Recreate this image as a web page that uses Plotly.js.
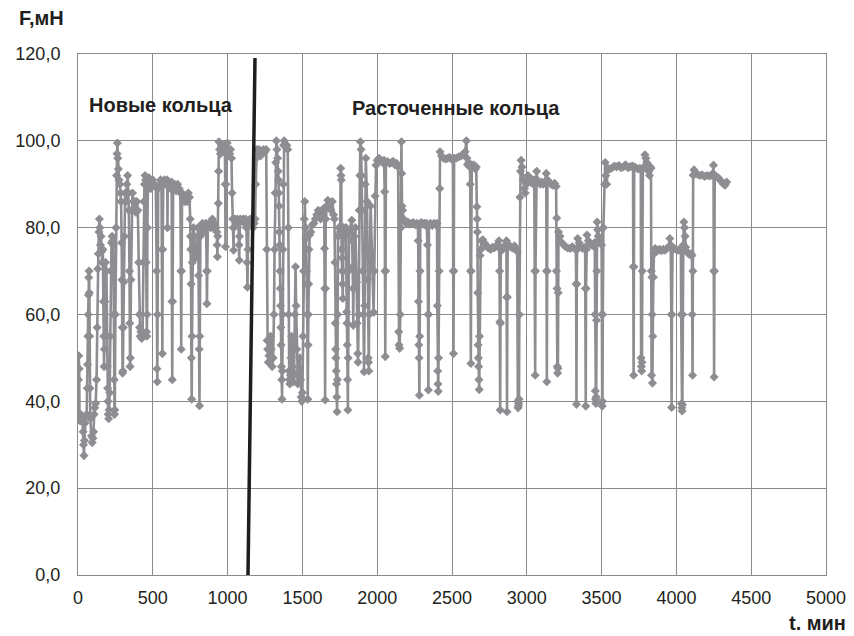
<!DOCTYPE html>
<html>
<head>
<meta charset="utf-8">
<script src="https://cdn.plot.ly/plotly-3.0.1.min.js"></script>
<style>
  html, body { margin: 0; padding: 0; background: #fff; }
  #chart { width: 854px; height: 636px; }
</style>
</head>
<body>
<div id="chart"></div>
<script>
// Friction force F (mN) versus time t (min); [t, F] pairs in time order.
// New rings: t = 0 … ~1150 min
const newRingsA = [
  [0,37],[3,45],[5,50.5],[8,47.5],[10,36],[14,35.5],[18,37],[22,36.5],[26,35.5],[30,36],
  [34,33],[37,30],[40,27.5],[43,31],[47,35],[52,36.5],
  [58,37],[62,43],[64,48.5],[66,55],[68,60],[70,64.5],[72,68.5],[74,70],[76,65],[78,55],[80,43],[82,36],
  [90,32],[95,30.5],[100,31.5],[104,33],[108,37],[112,38.5],[118,39.5],
  [124,45],[128,57],[132,70.5],[136,74],[140,79],[143,82],[146,80],[150,76],[154,78],[158,74.5],[162,72],[166,75],
  [170,63],[172,55],[174,48],[176,52],[180,63],[184,72],
  [190,70],[193,55],[196,48],[198,43],[200,40],[202,37],[205,36],[208,38],[212,42],[216,55],[220,70],[224,76.5],[228,78],[232,77],[236,76],
  [240,60],[242,45],[244,37],[246,38],[250,60],[254,80],[258,92],[261,97],[263,99.5],[266,96],[270,93.5],[274,91],
  [280,90],[284,88],[288,86],[292,76.5],[294,68],[296,57],[298,46.5],[300,47],[303,57],[306,67.5],[310,78],[315,88],
  [320,86],[326,90],[332,92],[336,88],[340,84],[344,70],[346,58],[348,48],[350,50],[354,68],[358,84],[364,88],[370,86],[376,84],[382,86],[388,83.5],
  [394,86],[400,84],[406,72],[410,60],[412,57],[416,55],[420,56],[426,54.5],[432,56],[436,72],[440,86],[444,90],[448,92],[452,91]
];
const newRingsB = [
  [456,72],[458,56],[460,55],[462,60],[464,80],[468,91],[474,91.5],[480,90],[486,89],[492,90],[500,91],[510,90],[520,89.5],
  [526,70],[528,47.5],[530,44.5],[532,60],[536,89],[544,90],[552,91],[558,90],
  [562,75],[564,51],[566,75],[570,90],[578,91],[586,90],[596,91],[598,80],[600,90],[606,89.5],[614,90],[620,89],[626,90.5],
  [628,63],[630,45],[632,63],[636,89],[646,90],[656,88.5],[666,90],[676,89],[684,88],
  [688,70],[690,52],[692,70],[696,88],[704,87],[712,86],[722,87],[730,86],[738,88],[745,87],
  [750,82],[752,78],[754,75],[756,67],[758,50],[760,40.5],[762,55],[764,72],[768,75],[772,80],[778,78],[784,73],[790,76],[796,74],
  [802,80],[806,69],[810,52],[812,39],[814,55],[818,78],[824,80],[832,81],[840,79],[848,80],[856,81],
  [860,70],[862,62.5],[864,70],[868,80],[878,81],[888,80],[898,82],[906,80],[914,81],[922,80],[928,79],
  [930,76],[932,73.3],[934,78],[938,85.6],[940,93],[942,99.8],[946,98],[952,97],[958,99],[964,98.5],[970,97.5],[976,99],[982,98],
  [984,90],[986,75.6],[988,90],[992,98],[998,99.5],[1006,98],[1014,97],[1020,98],[1026,96],
  [1030,88],[1034,82],[1038,80],[1040,74.8],[1042,80],[1048,82],[1056,81],[1064,82],[1072,81.5],
  [1076,76],[1078,72.5],[1080,78],[1084,82],[1094,81.5],[1104,82],[1114,81],[1120,82],[1126,80],
  [1130,72],[1133,66.3],[1136,75],[1140,81],[1150,82]
];
// Bored rings: t > ~1150 min
const boredRingsA = [
  [1160,81],[1170,80],[1178,81],[1184,82],
  [1188,90],[1192,96],[1196,98],[1204,97.5],[1212,98],[1220,96.5],[1230,97],[1240,98],[1250,97.5],[1258,98],
  [1262,75],[1264,54],[1268,52],[1272,49],[1276,50.5],[1280,52],[1284,54],[1288,55],[1292,52],[1298,48],[1304,50],
  [1310,60],[1314,75],[1318,88],[1322,95],[1326,100],[1330,98],[1334,96],[1338,93],[1340,91],[1342,88],[1344,85],[1346,79],[1348,76],
  [1350,70],[1352,66],[1354,62],[1356,57],[1358,53],[1360,48],[1362,45],[1364,40.5],[1366,47],[1368,60],[1370,75],[1372,90],[1374,99],
  [1378,100],[1384,99],[1390,98.5],[1396,99],[1402,98],
  [1406,80],[1408,60],[1410,47],[1412,45],[1416,44],[1420,46],[1424,50],[1428,55],[1432,52],[1436,48],[1440,44.5],[1444,46],
  [1450,60],[1454,71],[1458,62],[1462,52],[1466,46],[1470,44],[1476,47],[1482,50],
  [1488,45],[1492,41],[1496,40],[1500,42],[1504,55],[1508,70],[1512,82],[1516,86],
  [1520,80],[1524,77.5],[1528,70],[1530,67],[1532,60],[1534,53],[1536,40.5],[1538,53],[1540,60],[1542,67],[1544,75],
  [1548,78.3],[1556,79],[1566,80.6],[1576,81],[1586,82],[1596,83],[1606,84],[1614,83.5],[1622,82],[1630,84],[1640,83],[1646,84.5],
  [1648,75.2],[1650,66],[1652,40.3],[1654,66],[1656,82],[1662,85],[1670,86.3],[1680,85.5],[1690,84],[1700,86],[1708,83],[1714,82],
  [1718,72],[1720,58],[1722,52],[1724,50],[1726,47],[1728,44],[1730,41],[1732,37.6],[1734,45],[1736,60],[1738,78],[1744,80],[1752,79],
  [1756,93.7],[1758,92],[1760,91],[1762,75],[1764,73],[1766,70],[1768,67],[1770,63.7],[1772,70],[1776,80],[1784,78],[1792,80],
  [1796,60.6],[1798,58],[1800,53],[1802,45],[1804,38],[1806,50],[1808,70],[1812,79],
  [1830,81.7],[1834,77],[1836,71],[1838,66],[1840,57.5],[1842,66],[1846,78],[1854,80],
  [1862,67.5],[1866,58],[1870,51],[1872,49],[1876,60],[1880,84],[1884,92],[1888,99.8],[1892,98],[1896,92],[1900,84],
  [1904,70],[1908,60],[1912,46.8],[1916,62],[1920,90],[1924,96],
  [1932,86],[1936,68],[1940,50],[1942,49],[1944,47],[1946,60],[1950,75],[1956,85]
];
const boredRingsB = [
  [1976,60.5],[1980,70],[1986,87.3],[1992,94.4],[2000,95.5],[2012,96],[2024,95.5],[2036,95],[2046,95.5],
  [2050,88.3],[2052,70],[2054,50.3],[2056,70],[2058,95],[2070,95.2],[2082,94.8],[2094,95],[2106,95.3],[2118,94.5],[2130,94.8],[2140,94],
  [2144,56],[2146,53],[2150,52.2],[2154,60],[2158,80],[2162,99.8],[2164,92.5],[2166,85],[2170,84],[2176,82],[2184,81.5],
  [2194,81],[2206,81.3],[2218,80.8],[2230,81],[2242,81.2],[2254,80.7],[2266,81],[2272,80.5],
  [2274,77],[2276,63],[2278,53],[2280,50],[2282,41.4],[2284,55],[2286,70],[2288,81],
  [2296,81.2],[2306,80.8],[2316,81],[2324,80.5],[2330,81],
  [2336,76],[2340,60],[2342,42.6],[2344,60],[2346,80.5],[2356,81],[2368,80.5],[2380,81],[2392,80.7],[2400,81],
  [2402,62],[2404,47],[2406,44],[2408,42.3],[2410,50],[2414,70],[2418,89],[2420,97.5],[2430,96.5],[2444,96],[2458,95.8],[2470,96],[2484,96.2],[2496,95.8],[2506,96],
  [2508,70],[2510,51],[2512,70],[2514,96],[2528,96],[2544,96.3],[2560,96.5],[2576,96.8],[2588,97.5],[2596,100],[2600,96],[2604,94.5],[2612,95],[2620,94],
  [2622,90],[2624,70],[2626,48.7],[2628,70],[2632,94],[2644,94.5],[2656,93.5],[2662,94],
  [2666,84.8],[2668,82],[2670,79],[2672,65],[2674,53],[2676,50],[2678,48],[2680,45],[2682,42.7],[2684,55],[2688,73.6],[2692,75],
  [2698,77],[2706,77.2],[2716,76.5],[2726,76],[2736,75.5],[2746,75.3],[2758,75],[2770,75.5],[2782,75.3],[2794,75.8],[2806,76],[2814,77],
  [2818,70],[2820,58.3],[2822,38],[2824,58],[2826,75],[2834,74.8],[2844,75.5],[2856,76],[2864,77],
  [2866,64],[2868,37.6],[2870,64],[2872,75.5],[2882,76],[2894,75.5],[2906,75.3],[2918,75.8],[2930,75],[2936,74.5],
  [2940,40],[2942,38.5],[2944,39],[2946,39.5],[2948,40.5],[2950,60],[2954,87],[2958,93],[2962,95.5],[2968,94],[2976,91],
  [2984,89],[2990,88],[2998,90],[3008,92],[3016,91],[3024,90.5],[3034,91],[3044,90],[3050,91],
  [3054,70],[3056,46],[3058,70],[3062,91]
];
const boredRingsC = [
  [3066,93],[3070,91],[3078,90.5],[3090,90],[3100,90.5],[3110,90],[3120,90.5],[3130,92.5],
  [3132,70],[3134,44.5],[3136,70],[3138,91],[3150,90.5],[3162,90],[3174,89.8],[3186,90.2],[3196,89.5],
  [3198,70],[3200,82.2],[3202,66],[3204,48],[3206,46.5],[3208,47.6],[3210,65],[3212,79],[3222,78],[3234,76.6],[3246,76],[3260,75.6],[3274,75.3],[3290,75.2],[3304,75.6],[3318,75.2],[3328,75],
  [3330,67],[3332,39.3],[3334,67],[3336,75],[3340,77.5],[3350,76.5],[3362,75.5],[3374,75.2],[3384,75.5],[3390,75.2],
  [3392,66],[3394,38.9],[3396,66],[3398,75],[3402,78.3],[3412,77],[3424,76.2],[3436,76],[3446,75.8],[3454,76.6],
  [3456,60],[3458,42.4],[3460,40.5],[3462,39.5],[3464,41],[3466,58.7],[3468,70],[3470,81.3],[3474,79.5],[3478,78],[3484,76.6],[3490,77],[3500,76],
  [3502,60],[3504,38.9],[3506,40],[3508,60],[3512,80],[3520,90],[3524,95],[3528,92],[3534,90],[3542,93.7],[3556,93.5],[3570,93.8],[3586,94.2],
  [3600,94],[3616,94.3],[3630,93.8],[3646,94],[3660,94.5],[3676,93.8],[3690,94],[3704,94.2],[3710,94],
  [3712,71],[3714,46],[3716,71],[3718,94],[3730,93.8],[3744,93.5],[3756,93.7],[3762,93.5],
  [3764,50],[3766,48],[3768,47],[3770,49],[3772,70],[3776,93.5],[3784,94],[3790,96.8],[3796,96],[3802,95],[3808,94],[3814,93],[3820,92],
  [3826,94],[3830,93.7],
  [3832,70],[3834,46],[3836,68.6],[3838,60],[3840,44.2],[3842,55],[3846,68.6],[3850,74],[3858,75.2],[3866,74.5],[3876,74.8],[3888,75],
  [3900,74.7],[3912,75],[3924,74.8],[3936,75.2],[3948,75.5],[3956,77.5],[3962,76],
  [3966,60],[3968,38.6],[3970,60],[3974,75],[3986,75.2],[3998,75],[4010,74.8],[4022,75],[4030,74.6],
  [4032,60],[4034,39.5],[4036,38.5],[4038,37.8],[4040,39.2],[4042,60],[4046,76],[4050,81.3],[4054,80],[4058,78],[4062,75.5],
  [4070,74.5],[4080,74],[4090,73.8],[4098,74],[4104,73.6],
  [4106,60],[4108,46],[4110,70],[4112,92.1],[4118,93.3],[4126,92.5],[4140,92.3],[4156,92],[4172,92.2],[4188,91.8],[4204,92],
  [4220,91.9],[4236,92],[4244,92.5],[4248,94.4],
  [4250,70],[4252,45.6],[4254,70],[4256,92],[4266,91.8],[4280,91.5],[4292,91],[4304,90.5],[4316,90],[4326,89.8],[4336,90.5]
];

// Tick values of both axes
const xTicks = [0, 500, 1000, 1500, 2000, 2500, 3000, 3500, 4000, 4500, 5000];
const yTicks = [0, 20, 40, 60, 80, 100, 120];

// Dividing line between the new and the bored rings (t, F endpoints)
const dividerT = [1136, 1183];
const dividerF = [-0.7, 119.1];

const series = [].concat(newRingsA, newRingsB, boredRingsA, boredRingsB, boredRingsC);
const tMin = series.map(p => p[0]);
const fMn = series.map(p => p[1]);

const grey = '#8e8e92';
const ink = '#231f20';
const FONT = 'Liberation Sans, Arial, sans-serif';

const trace = {
  x: tMin,
  y: fMn,
  type: 'scatter',
  mode: 'lines+markers',
  line: { color: grey, width: 2.6 },
  marker: { symbol: 'diamond', size: 7, color: grey },
  hoverinfo: 'x+y'
};

const axisCommon = {
  showgrid: true,
  gridcolor: '#8a8a8a',
  gridwidth: 1,
  showline: true,
  linecolor: '#8a8a8a',
  linewidth: 1,
  mirror: true,
  zeroline: false,
  ticks: '',
  tickfont: { family: FONT, size: 18, color: ink }
};

const layout = {
  width: 854,
  height: 636,
  margin: { l: 78, r: 28, t: 54, b: 61 },
  paper_bgcolor: '#ffffff',
  plot_bgcolor: '#ffffff',
  showlegend: false,
  separators: ', ',
  font: { family: FONT, color: ink },
  xaxis: Object.assign({}, axisCommon, {
    range: [0, 5000],
    tickmode: 'array',
    tickvals: xTicks,
    ticktext: xTicks.map(String),
    ticklabelstandoff: 6
  }),
  yaxis: Object.assign({}, axisCommon, {
    range: [0, 120],
    tickmode: 'array',
    tickvals: yTicks,
    tickformat: '.1f',
    ticklabelstandoff: 13
  }),
  shapes: [{
    type: 'line',
    xref: 'x', yref: 'y',
    x0: dividerT[0], y0: dividerF[0],
    x1: dividerT[1], y1: dividerF[1],
    line: { color: '#1e1e1e', width: 3.5 },
    layer: 'above'
  }],
  annotations: [
    {
      text: '<b>F,мН</b>', xref: 'paper', yref: 'paper',
      x: -0.0816, y: 1.069, xanchor: 'left', yanchor: 'middle',
      showarrow: false, font: { family: FONT, size: 20, color: ink }
    },
    {
      text: '<b>t. мин</b>', xref: 'paper', yref: 'paper',
      x: 1.03, y: -0.092, xanchor: 'right', yanchor: 'middle',
      showarrow: false, font: { family: FONT, size: 20, color: ink }
    },
    {
      text: '<b>Новые кольца</b>', xref: 'x', yref: 'y',
      x: 60, y: 108.2, xanchor: 'left', yanchor: 'middle',
      showarrow: false, font: { family: FONT, size: 20, color: ink }
    },
    {
      text: '<b>Расточенные кольца</b>', xref: 'x', yref: 'y',
      x: 1818, y: 107.5, xanchor: 'left', yanchor: 'middle',
      showarrow: false, font: { family: FONT, size: 20, color: ink }
    }
  ]
};

Plotly.newPlot('chart', [trace], layout, { displayModeBar: false, staticPlot: true });
</script>
</body>
</html>
